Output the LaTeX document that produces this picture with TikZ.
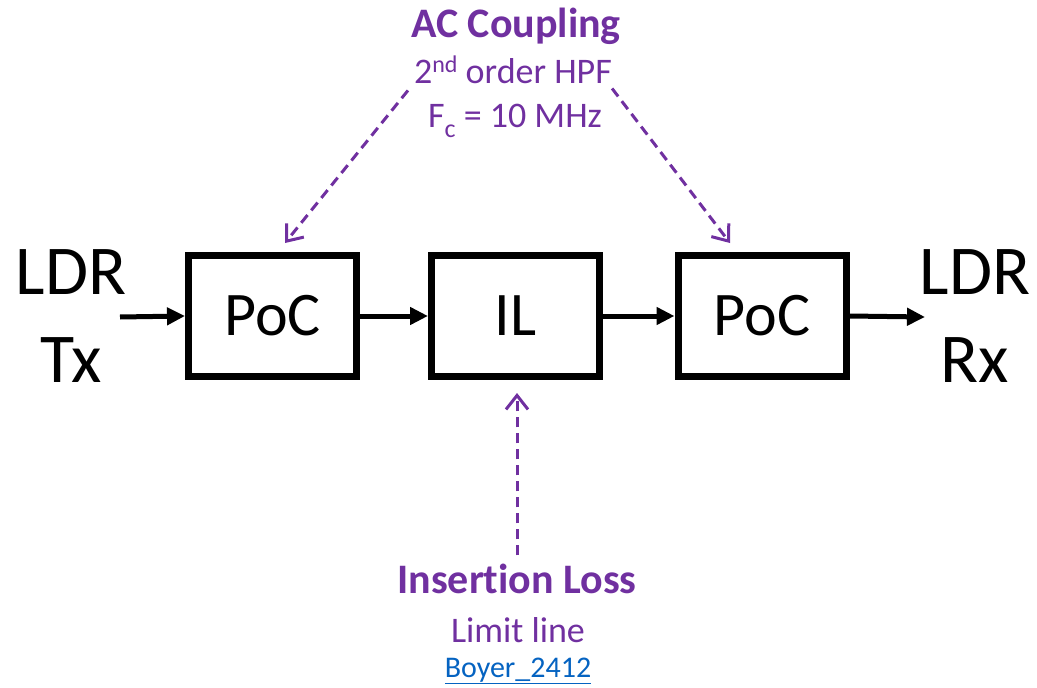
\documentclass[tikz,border=0pt]{standalone}
\usepackage{fontspec}
\setmainfont{Carlito}[Ligatures={NoCommon}]
\usetikzlibrary{arrows.meta}
\definecolor{acpurple}{HTML}{7030A0}
\definecolor{linkblue}{HTML}{0563C1}
\newcommand{\mysup}[1]{\raisebox{11pt}{\fontsize{24}{28}\selectfont #1}}
\newcommand{\mysub}[1]{\raisebox{-10pt}{\fontsize{26}{30}\selectfont #1}}
\begin{document}
\begin{tikzpicture}[x=1pt,y=-1pt,
  block/.style={draw, line width=7pt, minimum width=168pt, minimum height=121pt, inner sep=0pt, font=\fontsize{62}{74}\selectfont},
  sig/.style={line width=5pt, -{Triangle[length=18pt,width=17pt]}},
  note/.style={draw=acpurple, line width=3pt, dash pattern=on 10pt off 6pt, -{Straight Barb[length=14pt,width=22pt]}},
  big/.style={font=\fontsize{70}{88}\selectfont, align=center, inner sep=0pt},
  ptitle/.style={text=acpurple, font=\bfseries\fontsize{42}{50}\selectfont, inner sep=0pt, anchor=base},
  psub/.style={text=acpurple, font=\fontsize{36}{43}\selectfont, inner sep=0pt, anchor=base},
  link/.style={text=linkblue, font=\fontsize{30}{36}\selectfont, inner sep=0pt, anchor=base}]
\useasboundingbox (0,0) rectangle (1037,688);

% blocks
\node[block] (poc1) at (272.5,316) {PoC};
\node[block] (il) at (515.5,316) {IL};
\node[block] (poc2) at (762,316) {PoC};

% end labels
\node[big] (tx) at (71,316.5) {LDR\\Tx};
\node[big] (rx) at (975,316.5) {LDR\\Rx};

% signal arrows
\coordinate (in) at (120,317);
\coordinate (out) at (925,317);
\draw[sig] (in) -- (poc1.west);
\draw[sig] (poc1) -- (il);
\draw[sig] (il) -- (poc2);
\draw[sig] (poc2.east) -- (out);

% AC coupling text
\node[ptitle] (ac) at (516,37) {AC Coupling};
\node[psub] (hpf) at (513,83) {2\mysup{nd} order HPF};
\node[psub] (fc) at (515,127) {F\mysub{c} = 10 MHz};

% Insertion loss text
\node[ptitle] (loss) at (517,593) {Insertion Loss};
\node[psub] (lim) at (518,642) {Limit line};
\node[link] (boy) at (518,677) {\underline{Boyer\_2412}};

% dashed annotation arrows
\coordinate (s1) at ([shift={(-6,7)}]hpf.south west);
\coordinate (s2) at ([shift={(0,5)}]hpf.south east);
\coordinate (s3) at ([shift={(0,-8)}]loss.north);
\draw[note] (s1) -- ([shift={(12.5,-9)}]poc1.north);
\draw[note] (s2) -- ([shift={(-32,-9)}]poc2.north);
\draw[note] (s3) -- ([shift={(1.5,13)}]il.south);
\end{tikzpicture}
\end{document}
